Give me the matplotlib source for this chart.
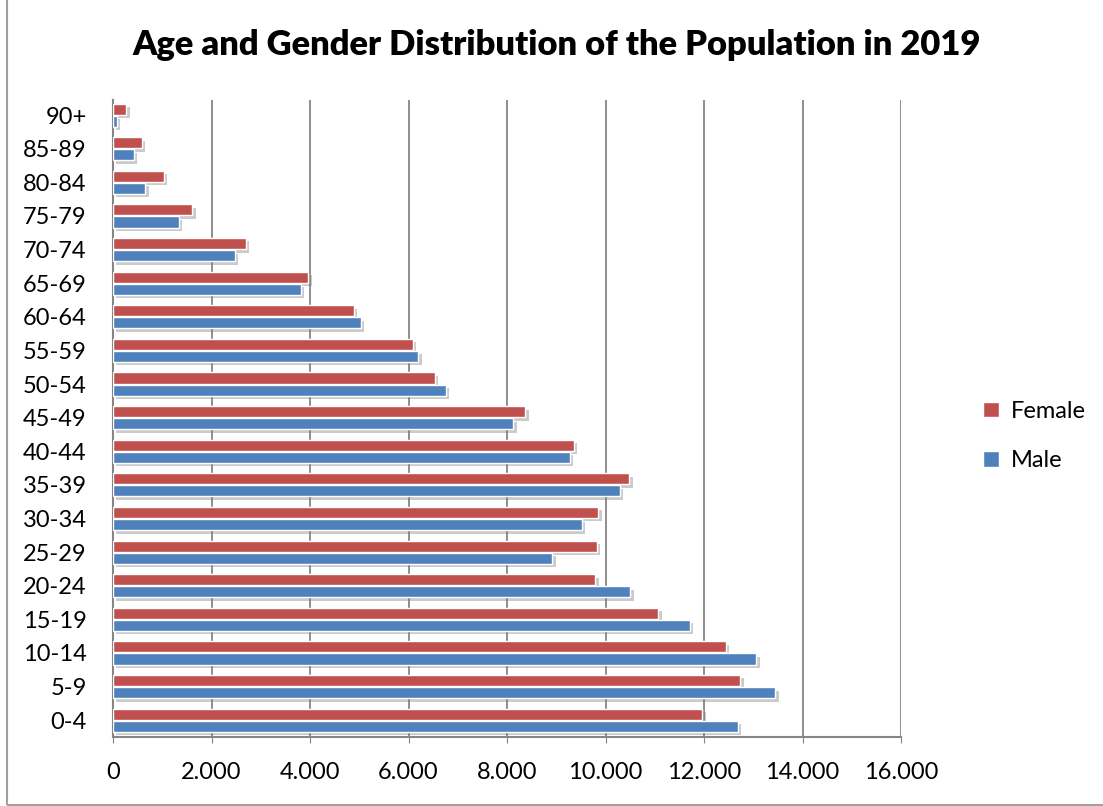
import matplotlib
matplotlib.use("Agg")
import matplotlib.pyplot as plt
import matplotlib.patheffects as pe
from matplotlib.patches import Rectangle
import numpy as np

categories = ["0-4", "5-9", "10-14", "15-19", "20-24", "25-29", "30-34", "35-39",
              "40-44", "45-49", "50-54", "55-59", "60-64", "65-69", "70-74",
              "75-79", "80-84", "85-89", "90+"]
female = [11960, 12735, 12440, 11070, 9790, 9820, 9850, 10480, 9360, 8370,
          6530, 6090, 4890, 3965, 2700, 1610, 1030, 580, 270]
male = [12690, 13450, 13060, 11710, 10500, 8920, 9520, 10285, 9275, 8130,
        6760, 6200, 5030, 3815, 2470, 1340, 655, 425, 75]
xticks = [0, 2000, 4000, 6000, 8000, 10000, 12000, 14000, 16000]
xticklabels = ["0", "2.000", "4.000", "6.000", "8.000", "10.000", "12.000", "14.000", "16.000"]

FEMALE_C = "#C0504D"
MALE_C = "#4F81BD"
GRID_C = "#868686"

plt.rcParams['font.family'] = ['Lato', 'DejaVu Sans']

fig = plt.figure(figsize=(11.03, 8.06), dpi=100)
fig.patches.append(Rectangle((7/1103, 1/806), 1.2, 1.2, transform=fig.transFigure,
                             fill=False, edgecolor="#A0A0A0", linewidth=1.5))

ax = fig.add_axes([113/1103, 69/806, 788/1103, 637/806])
y = np.arange(len(categories))
h = 0.33
shadow = [pe.withSimplePatchShadow(offset=(2.5, -2.5), shadow_rgbFace="#7f7f7f", alpha=0.4)]
bf = ax.barh(y + 0.18, female, height=h, color=FEMALE_C, edgecolor="white", linewidth=1.0,
             label="Female", zorder=3)
bm = ax.barh(y - 0.18, male, height=h, color=MALE_C, edgecolor="white", linewidth=1.0,
             label="Male", zorder=3)
for b in list(bf) + list(bm):
    b.set_path_effects(shadow)

ax.set_xlim(0, 16000)
ax.set_ylim(-0.5, 18.45)
ax.set_xticks(xticks)
ax.set_xticklabels(xticklabels, fontsize=17)
ax.set_yticks(y)
ax.set_yticklabels(categories, fontsize=17)
ax.tick_params(axis='y', length=0, pad=19)
ax.tick_params(axis='x', length=4, color=GRID_C, pad=14)
ax.xaxis.grid(True, color=GRID_C, linewidth=1.3, zorder=0)
ax.set_axisbelow(True)
for s in ["top", "right"]:
    ax.spines[s].set_visible(False)
for s in ["left", "bottom"]:
    ax.spines[s].set_color(GRID_C)
    ax.spines[s].set_linewidth(1.5)

fig.text(557/1103, 1 - 45/806, "Age and Gender Distribution of the Population in 2019",
         ha="center", va="center", fontsize=24.8, fontweight="heavy")

leg = fig.legend(handles=[bf, bm], labels=["Female", "Male"], loc="center left",
                 bbox_to_anchor=(962/1103, 1 - 436/806), frameon=False, fontsize=17,
                 handlelength=0.65, handleheight=0.65, handletextpad=0.5, labelspacing=1.2)
for hdl in leg.legend_handles:
    hdl.set_path_effects([])

fig.savefig("out.png", dpi=100)
